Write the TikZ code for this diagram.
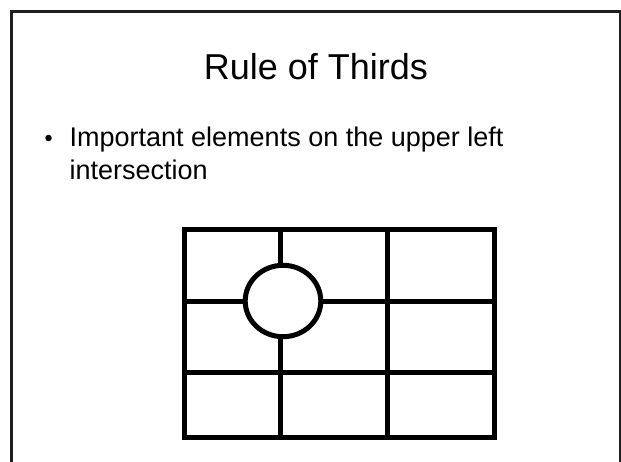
\documentclass[tikz,border=0pt]{standalone}
\usepackage{fontspec}
\setmainfont{Liberation Sans}
\usepackage{tikz}
\usetikzlibrary{positioning}

\begin{document}
\begin{tikzpicture}[
  x=1pt, y=-1pt,
  frame/.style={draw=black!88, line width=2.4pt},
  gridline/.style={draw=black, line width=5pt},
  titletext/.style={font=\fontsize{36}{42}\selectfont, inner sep=0pt},
  bodytext/.style={font=\fontsize{27}{32}\selectfont, inner sep=0pt},
  bulletdot/.style={circle, fill=black, inner sep=0pt, minimum size=6.5pt}
]
\useasboundingbox (0,0) rectangle (621,461);
\clip (0,0) rectangle (621,461);
\fill[white] (0,0) rectangle (621,461);
\draw[frame] (11.5,11.5) rectangle (620,475);

\node[titletext, anchor=base] (title) at (316,79) {Rule of Thirds};
\node[bulletdot] (dot) at (48.5,138) {};
\node[bodytext, anchor=base west] (point) at (69.5,146.5) {Important elements on the upper left};
\node[bodytext, anchor=base west] (point2) at ([yshift=-32.5pt]point.base west) {intersection};

\coordinate (nw) at (184,229);
\coordinate (se) at (494,437.5);
\draw[gridline] (280,229) -- (280,437.5);
\draw[gridline] (387,229) -- (387,437.5);
\draw[gridline] (184,301) -- (494,301);
\draw[gridline] (184,372) -- (494,372);
\draw[gridline] (nw) rectangle (se);
\filldraw[gridline, fill=white] (283,301) ellipse [x radius=37.8, y radius=35.7];
\end{tikzpicture}
\end{document}
